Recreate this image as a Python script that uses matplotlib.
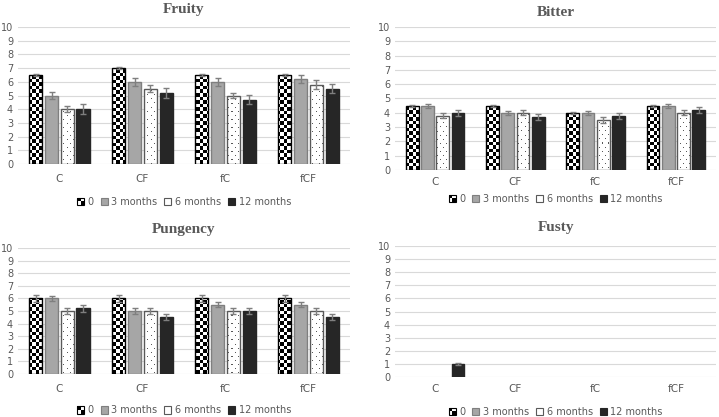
import matplotlib
matplotlib.use("Agg")
import matplotlib.pyplot as plt
import numpy as np
from matplotlib.patches import Rectangle
from matplotlib.legend_handler import HandlerBase

categories = ['C', 'CF', 'fC', 'fCF']
series_labels = ['0', '3 months', '6 months', '12 months']

fruity_vals = [[6.5, 7.0, 6.5, 6.5],
               [5.0, 6.0, 6.0, 6.2],
               [4.0, 5.5, 5.0, 5.8],
               [4.0, 5.2, 4.7, 5.5]]
fruity_err = [[0.1, 0.1, 0.1, 0.1],
              [0.25, 0.3, 0.3, 0.3],
              [0.2, 0.25, 0.2, 0.3],
              [0.35, 0.35, 0.35, 0.35]]

bitter_vals = [[4.5, 4.5, 4.0, 4.5],
               [4.5, 4.0, 4.0, 4.5],
               [3.8, 4.0, 3.5, 4.0],
               [4.0, 3.7, 3.8, 4.2]]
bitter_err = [[0.08, 0.08, 0.08, 0.08],
              [0.15, 0.15, 0.15, 0.15],
              [0.18, 0.18, 0.18, 0.18],
              [0.2, 0.2, 0.2, 0.2]]

pungency_vals = [[6.0, 6.0, 6.0, 6.0],
                 [6.0, 5.0, 5.5, 5.5],
                 [5.0, 5.0, 5.0, 5.0],
                 [5.2, 4.5, 5.0, 4.5]]
pungency_err = [[0.3, 0.3, 0.3, 0.3],
                [0.2, 0.2, 0.2, 0.2],
                [0.25, 0.25, 0.25, 0.25],
                [0.3, 0.25, 0.25, 0.25]]

fusty_vals = [[0, 0, 0, 0],
              [0, 0, 0, 0],
              [0, 0, 0, 0],
              [1.0, 0, 0, 0]]
fusty_err = [[0, 0, 0, 0],
             [0, 0, 0, 0],
             [0, 0, 0, 0],
             [0.05, 0, 0, 0]]

panels = [
    ("Fruity", fruity_vals, fruity_err, [0.025, 0.6067, 0.4618, 0.3285], -0.175, 7, 10),
    ("Bitter", bitter_vals, bitter_err, [0.5494, 0.5923, 0.4465, 0.343], -0.105, 5, 8),
    ("Pungency", pungency_vals, pungency_err, [0.025, 0.1031, 0.4618, 0.3022], -0.18, 7, 11),
    ("Fusty", fusty_vals, fusty_err, [0.5494, 0.0959, 0.4465, 0.3141], -0.16, 5, 11),
]

TXT = '#595959'
face_cols = ['none', '#a6a6a6', 'none', '#262626']
edge_cols = ['#000000', '#7f7f7f', '#595959', '#262626']

fig = plt.figure(figsize=(7.19, 4.17), dpi=100)


class CheckerHandler(HandlerBase):
    def create_artists(self, legend, orig_handle, xdescent, ydescent,
                       width, height, fontsize, trans):
        s = min(width, height)
        x0 = -xdescent + (width - s) / 2
        y0 = -ydescent
        h = s / 2
        arts = [Rectangle((x0, y0), s, s, facecolor='white', lw=0, transform=trans),
                Rectangle((x0, y0 + h), h, h, facecolor='black', lw=0, transform=trans),
                Rectangle((x0 + h, y0), h, h, facecolor='black', lw=0, transform=trans),
                Rectangle((x0, y0), s, s, facecolor='none', edgecolor='black',
                          lw=0.8, transform=trans)]
        return arts


class SquareHandler(HandlerBase):
    def create_artists(self, legend, orig_handle, xdescent, ydescent,
                       width, height, fontsize, trans):
        s = min(width, height)
        x0 = -xdescent + (width - s) / 2
        y0 = -ydescent
        fc = orig_handle.get_facecolor()
        if orig_handle.get_label() == '6 months':
            fc = 'white'
        ec = orig_handle.get_edgecolor()
        r = Rectangle((x0, y0), s, s, facecolor=fc, edgecolor=ec, lw=0.8,
                      transform=trans)
        return [r]


width = 0.16
step = 0.19
x = np.arange(len(categories))

for title, vals, errs, pos, leg_y, xpad, tpad in panels:
    ax = fig.add_axes(pos)
    ax.set_xlim(-0.5, 3.5)
    ax.set_ylim(0, 10)
    ax.set_yticks(range(0, 11))
    ax.grid(axis='y', color='#d9d9d9', lw=0.8, zorder=0)
    ax.set_axisbelow(True)
    for sp in ax.spines.values():
        sp.set_visible(False)
    ax.tick_params(length=0, labelsize=7, colors=TXT)
    ax.tick_params(axis='x', labelsize=7.5, pad=xpad)
    ax.set_xticks(x)
    ax.set_xticklabels(categories)

    # textures
    wpx = int(round(pos[2] * fig.get_figwidth() * fig.dpi))
    hpx = int(round(pos[3] * fig.get_figheight() * fig.dpi))
    nx = int(round(wpx / 3.5))
    ny = int(round(hpx / 3.5))
    checker = (np.add.outer(np.arange(ny), np.arange(nx)) % 2).astype(float)
    rr, cc = np.meshgrid(np.arange(hpx), np.arange(wpx), indexing='ij')
    dots = np.ones((hpx, wpx))
    dots[((rr % 8 == 0) & (cc % 6 == 0)) | ((rr % 8 == 4) & (cc % 6 == 3))] = 0.35

    handles = []
    for i in range(4):
        v = np.array(vals[i], dtype=float)
        e = np.array(errs[i], dtype=float)
        xs = x + (i - 1.5) * step
        lws = np.where(v > 0, 1.0, 0.0)
        bars = ax.bar(xs, v, width, facecolor=face_cols[i], edgecolor=edge_cols[i],
                      linewidth=lws, zorder=3, label=series_labels[i])
        handles.append(bars[0])
        if i in (0, 2):
            tex = checker if i == 0 else dots
            for b in bars:
                if b.get_height() <= 0:
                    continue
                im = ax.imshow(tex, extent=(-0.5, 3.5, 0, 10), cmap='gray',
                               interpolation='nearest', aspect='auto', zorder=2.5,
                               vmin=0, vmax=1)
                im.set_clip_path(b)
        m = v > 0
        if m.any():
            ax.errorbar(xs[m], v[m], yerr=e[m], fmt='none', ecolor='#7f7f7f',
                        elinewidth=1.0, capsize=2.5, capthick=1.0, zorder=4)
    ax.set_xlim(-0.5, 3.5)
    ax.set_ylim(0, 10)

    ax.set_title(title, fontsize=11, fontweight='bold', color=TXT,
                 family='Liberation Serif', pad=tpad)

    hmap = {handles[0]: CheckerHandler(), handles[1]: SquareHandler(),
            handles[2]: SquareHandler(), handles[3]: SquareHandler()}
    leg = ax.legend(handles, series_labels, loc='upper center',
                    bbox_to_anchor=(0.5, leg_y), ncol=4, frameon=False,
                    fontsize=7, handlelength=0.75, handleheight=0.75,
                    handletextpad=0.35, columnspacing=0.7, handler_map=hmap)
    for t in leg.get_texts():
        t.set_color(TXT)

fig.savefig('out.png', dpi=100)
